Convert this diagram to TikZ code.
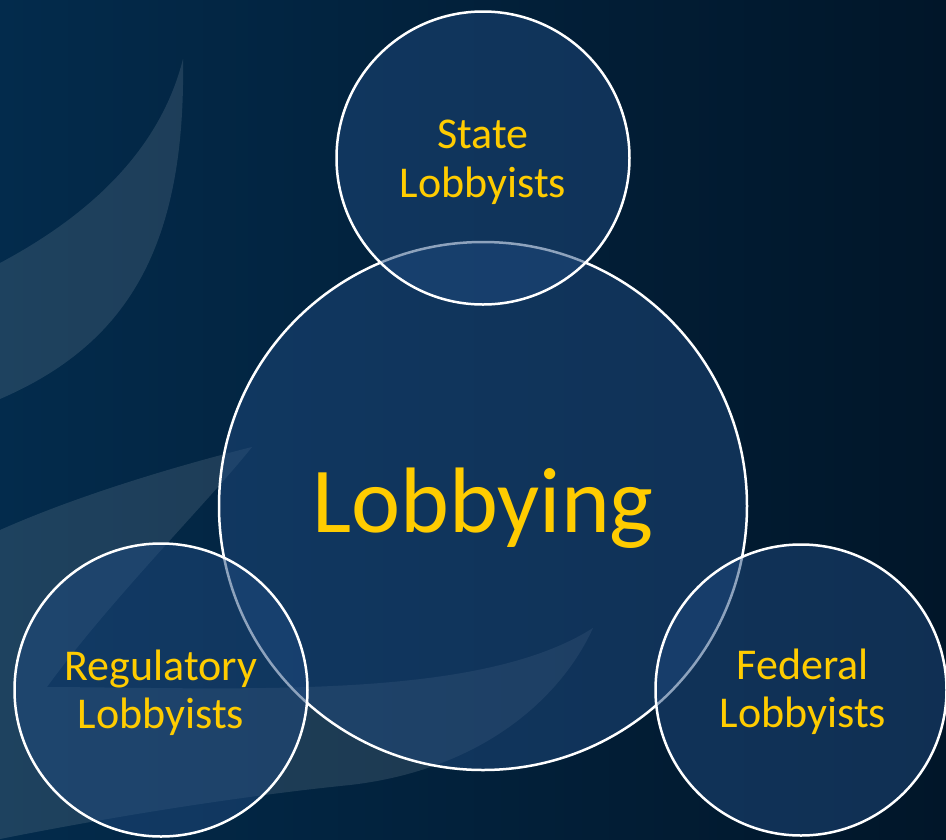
\documentclass[tikz,border=0pt]{standalone}
\usepackage{fontspec}
\setmainfont{Carlito}
\definecolor{bgleft}{RGB}{3,43,76}
\definecolor{bgright}{RGB}{1,22,41}
\definecolor{circfill}{RGB}{31,73,125}
\definecolor{txtgold}{RGB}{255,204,0}
\begin{document}
\begin{tikzpicture}[x=1pt,y=-1pt,
  bubble/.style={circle,draw=white,line width=2.5pt,fill=circfill,fill opacity=0.5,draw opacity=1,inner sep=0pt},
  small/.style={text=txtgold,font=\fontsize{44}{48}\selectfont,anchor=base,inner sep=0pt},
  big/.style={text=txtgold,font=\fontsize{93}{100}\selectfont,anchor=base,inner sep=0pt},
  swoosh/.style={fill=white,fill opacity=0.11,draw=none}]
% background
\shade[left color=bgleft,right color=bgright] (0,0) rectangle (946,839);
\useasboundingbox (0,0) rectangle (946,839);
% swooshes
\fill[swoosh] (0,263) .. controls (90,215) and (160,150) .. (183,59)
  .. controls (186,250) and (125,345) .. (0,399) -- cycle;
\fill[swoosh] (0,530) .. controls (90,490) and (200,460) .. (252,447)
  .. controls (210,500) and (110,600) .. (47,687)
  .. controls (250,688) and (480,700) .. (593,628)
  .. controls (560,700) and (480,770) .. (350,785)
  .. controls (250,795) and (120,815) .. (0,839) -- cycle;
% circles
\node[bubble,minimum size=528pt] (main) at (483,506) {};
\node[bubble,minimum size=293pt] (state) at (483,158) {};
\node[bubble,minimum size=293pt] (reg) at (161,690) {};
\node[bubble,minimum size=291pt] (fed) at (801,690) {};
% labels
\node[big] (mainlbl) at (483,532) {Lobbying};
\node[small] (state1) at (483,148) {State};
\node[small] (state2) at (483,197) {Lobbyists};
\node[small] (reg1) at (161,680) {Regulatory};
\node[small] (reg2) at (161,728) {Lobbyists};
\node[small] (fed1) at (803,679) {Federal};
\node[small] (fed2) at (803,727) {Lobbyists};
\end{tikzpicture}
\end{document}
